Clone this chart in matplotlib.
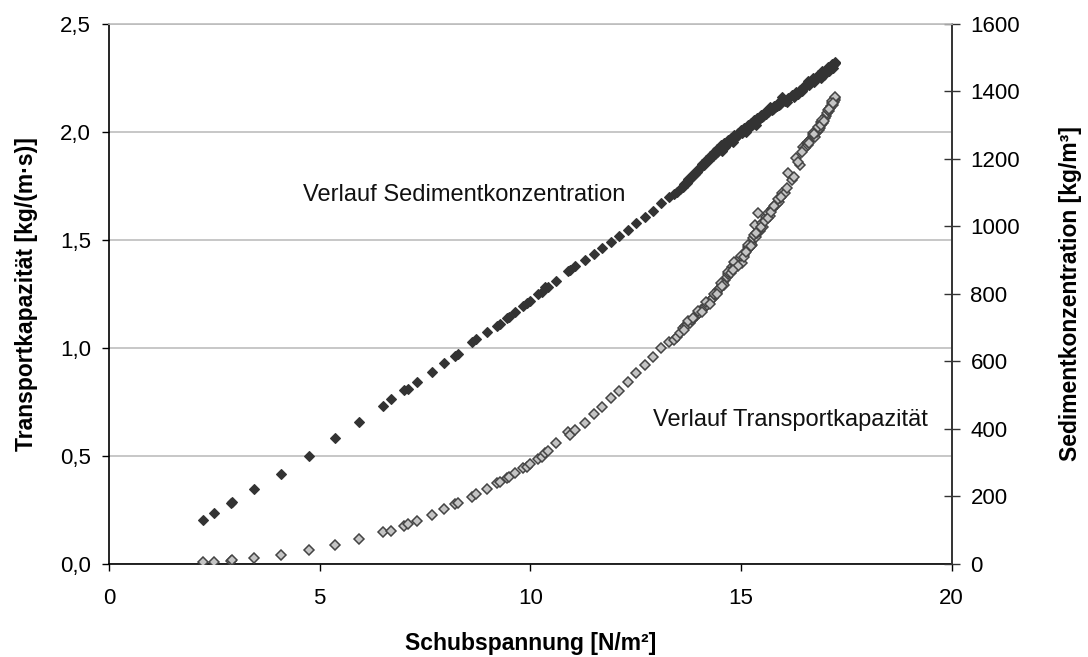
import matplotlib
matplotlib.use("Agg")
import matplotlib.pyplot as plt
from matplotlib.ticker import FuncFormatter, MultipleLocator

plt.rcParams["font.family"] = ["Liberation Sans", "DejaVu Sans"]

# Shear stress [N/m²]
schubspannung = [
    2.24, 2.49, 2.89, 2.92, 3.44, 4.08, 4.75, 5.37, 5.93, 6.50,
    6.70, 7.00, 7.10, 7.32, 7.66, 7.96, 8.20, 8.28, 8.61, 8.70,
    8.97, 9.22, 9.28, 9.44, 9.50, 9.64, 9.83, 9.91, 9.99, 10.19,
    10.27, 10.35, 10.43, 10.60, 10.89, 10.94, 11.06, 11.30, 11.50, 11.71,
    11.92, 12.11, 12.31, 12.51, 12.71, 12.91, 13.10, 13.30, 13.41, 13.47,
    13.55, 13.62, 13.67, 13.72, 13.79, 13.84, 13.91, 13.96, 14.01, 14.06,
    14.11, 14.15, 14.19, 14.24, 14.28, 14.33, 14.38, 14.42, 14.46, 14.50,
    14.54, 14.58, 14.62, 14.66, 14.70, 14.74, 14.78, 14.82, 14.86, 14.90,
    14.94, 14.98, 15.02, 15.06, 15.10, 15.14, 15.17, 15.20, 15.23, 15.26,
    15.29, 15.33, 15.36, 15.41, 15.45, 15.49, 15.53, 15.59, 15.65, 15.69,
    15.73, 15.77, 15.81, 15.85, 15.89, 15.93, 15.97, 16.04, 16.12, 16.20,
    16.31, 16.40, 16.48, 16.52, 16.56, 16.60, 16.64, 16.68, 16.72, 16.76,
    16.80, 16.84, 16.87, 16.91, 16.95, 16.99, 17.02, 17.04, 17.08, 17.11,
    17.14, 17.17, 17.19, 17.21, 17.23, 17.24,
    13.64, 13.75, 13.86, 13.98, 14.08, 14.17, 14.26, 14.35, 14.44, 14.52,
    14.60, 14.68, 14.76, 14.84, 14.92, 15.00, 15.08, 15.16, 15.24, 15.31,
    15.38, 15.47, 15.56, 15.63, 15.71, 15.79, 15.87, 15.95, 16.58, 16.70,
    16.82, 16.93, 17.06, 17.16, 17.22,
    16.08, 16.25, 16.36, 16.45, 16.62, 16.74, 16.89, 16.97, 17.10, 17.18,
    14.55, 14.80, 15.12, 15.35,
]

# Sediment concentration [kg/m³] (right axis)
sedimentkonzentration = [
    130, 150, 180, 184, 221, 268, 321, 374, 420, 467,
    490, 516, 519, 540, 570, 596, 616, 622, 659, 666,
    688, 705, 711, 728, 733, 748, 764, 772, 780, 800,
    807, 820, 822, 838, 868, 872, 883, 901, 919, 935,
    955, 972, 990, 1009, 1029, 1046, 1069, 1088, 1097, 1103,
    1110, 1118, 1125, 1130, 1141, 1147, 1156, 1161, 1170, 1175,
    1182, 1187, 1193, 1198, 1205, 1209, 1215, 1221, 1224, 1230,
    1233, 1239, 1236, 1244, 1247, 1252, 1255, 1259, 1263, 1268,
    1271, 1281, 1277, 1282, 1286, 1289, 1293, 1296, 1298, 1302,
    1305, 1309, 1311, 1316, 1320, 1324, 1327, 1334, 1339, 1355,
    1346, 1349, 1353, 1357, 1360, 1364, 1385, 1373, 1381, 1389,
    1398, 1405, 1413, 1416, 1420, 1424, 1428, 1431, 1435, 1438,
    1442, 1445, 1448, 1452, 1455, 1460, 1462, 1465, 1468, 1471,
    1474, 1477, 1479, 1481, 1483, 1485,
    1126, 1140, 1155, 1170, 1184, 1196, 1208, 1220, 1231, 1240,
    1246, 1255, 1262, 1270, 1278, 1285, 1292, 1300, 1308, 1315,
    1321, 1330, 1338, 1346, 1351, 1358, 1366, 1372, 1430, 1440,
    1450, 1460, 1472, 1482, 1488,
    1370, 1385, 1393, 1402, 1418, 1428, 1440, 1448, 1460, 1470,
    1225, 1250, 1280, 1302,
]

# Transport capacity [kg/(m·s)] (left axis)
transportkapazitaet = [
    0.009, 0.011, 0.015, 0.019, 0.026, 0.043, 0.063, 0.088, 0.114, 0.147,
    0.154, 0.177, 0.186, 0.199, 0.227, 0.253, 0.276, 0.281, 0.312, 0.323,
    0.346, 0.374, 0.381, 0.397, 0.404, 0.423, 0.443, 0.450, 0.462, 0.485,
    0.497, 0.515, 0.525, 0.559, 0.613, 0.597, 0.620, 0.654, 0.693, 0.728,
    0.767, 0.802, 0.844, 0.883, 0.921, 0.960, 0.999, 1.029, 1.037, 1.052,
    1.071, 1.091, 1.102, 1.108, 1.117, 1.131, 1.145, 1.151, 1.161, 1.176,
    1.184, 1.191, 1.199, 1.214, 1.222, 1.231, 1.245, 1.256, 1.269, 1.279,
    1.292, 1.301, 1.315, 1.327, 1.343, 1.353, 1.376, 1.364, 1.389, 1.400,
    1.392, 1.415, 1.395, 1.431, 1.438, 1.452, 1.469, 1.461, 1.485, 1.478,
    1.508, 1.569, 1.516, 1.624, 1.541, 1.577, 1.560, 1.608, 1.624, 1.611,
    1.642, 1.650, 1.662, 1.668, 1.677, 1.694, 1.716, 1.716, 1.809, 1.778,
    1.878, 1.847, 1.932, 1.925, 1.948, 1.940, 1.963, 1.972, 1.986, 1.978,
    2.001, 2.010, 2.017, 2.048, 2.040, 2.063, 2.072, 2.087, 2.095, 2.110,
    2.118, 2.132, 2.125, 2.140, 2.148, 2.157,
    1.082, 1.125, 1.140, 1.170, 1.168, 1.212, 1.205, 1.250, 1.248, 1.302,
    1.290, 1.352, 1.345, 1.398, 1.380, 1.428, 1.422, 1.478, 1.470, 1.525,
    1.530, 1.560, 1.590, 1.600, 1.630, 1.655, 1.690, 1.700, 1.955, 1.995,
    2.025, 2.055, 2.100, 2.145, 2.160,
    1.740, 1.790, 1.860, 1.905, 1.950, 1.990, 2.030, 2.050, 2.105, 2.135,
    1.285, 1.360, 1.445, 1.530,
]

x_ticks = [0, 5, 10, 15, 20]

fig = plt.figure(figsize=(10.88, 6.57), dpi=100)
ax = fig.add_axes([0.1002, 0.1416, 0.7745, 0.8219])
ax2 = ax.twinx()

TICK_FS = 16
LABEL_FS = 16.5
NOTE_FS = 17

# Left axis: transport capacity
ax.set_xlim(0, 20)
ax.set_ylim(0, 2.5)
ax.set_xticks(x_ticks)
ax.yaxis.set_major_locator(MultipleLocator(0.5))
ax.yaxis.set_major_formatter(FuncFormatter(lambda v, p: f"{v:.1f}".replace(".", ",")))
ax.grid(axis="y", color="#bdbdbd", linewidth=1.2, zorder=0)
ax.set_axisbelow(True)
ax.tick_params(axis="both", labelsize=TICK_FS, direction="out", length=5,
               width=1, color="black", pad=8)
ax.tick_params(axis="x", pad=12)
for side in ("top", "right"):
    ax.spines[side].set_visible(False)
for side in ("left", "bottom"):
    ax.spines[side].set_color("black")
    ax.spines[side].set_linewidth(1.2)

# Right axis: sediment concentration
ax2.set_ylim(0, 1600)
ax2.yaxis.set_major_locator(MultipleLocator(200))
ax2.tick_params(axis="y", labelsize=TICK_FS, direction="inout", length=11,
                width=1, color="#333333", pad=8)
ax2.spines["right"].set_color("#333333")
ax2.spines["right"].set_linewidth(1.4)
ax2.spines["top"].set_color("#bdbdbd")
ax2.spines["top"].set_linewidth(1.2)
for side in ("left", "bottom"):
    ax2.spines[side].set_visible(False)

ax2.plot(schubspannung, transportkapazitaet, linestyle="none", marker="D",
         markersize=5.2, markerfacecolor="#c4c4c4", markeredgecolor="#444444",
         markeredgewidth=1.1, transform=ax.transData, zorder=3)
ax2.plot(schubspannung, sedimentkonzentration, linestyle="none", marker="D",
         markersize=5.5, markerfacecolor="#333333", markeredgecolor="#333333",
         markeredgewidth=0.8, zorder=4)

ax.set_xlabel("Schubspannung [N/m²]", fontsize=LABEL_FS, fontweight="bold", labelpad=17)
ax.set_ylabel("Transportkapazität [kg/(m·s)]", fontsize=LABEL_FS, fontweight="bold", labelpad=16)
ax2.set_ylabel("Sedimentkonzentration [kg/m³]", fontsize=LABEL_FS, fontweight="bold",
               labelpad=28, rotation=90)

ax.text(4.6, 1.71, "Verlauf Sedimentkonzentration", fontsize=NOTE_FS,
        ha="left", va="center", color="#111111")
ax.text(12.92, 0.667, "Verlauf Transportkapazität", fontsize=NOTE_FS,
        ha="left", va="center", color="#111111")

fig.savefig("out.png", dpi=100)
